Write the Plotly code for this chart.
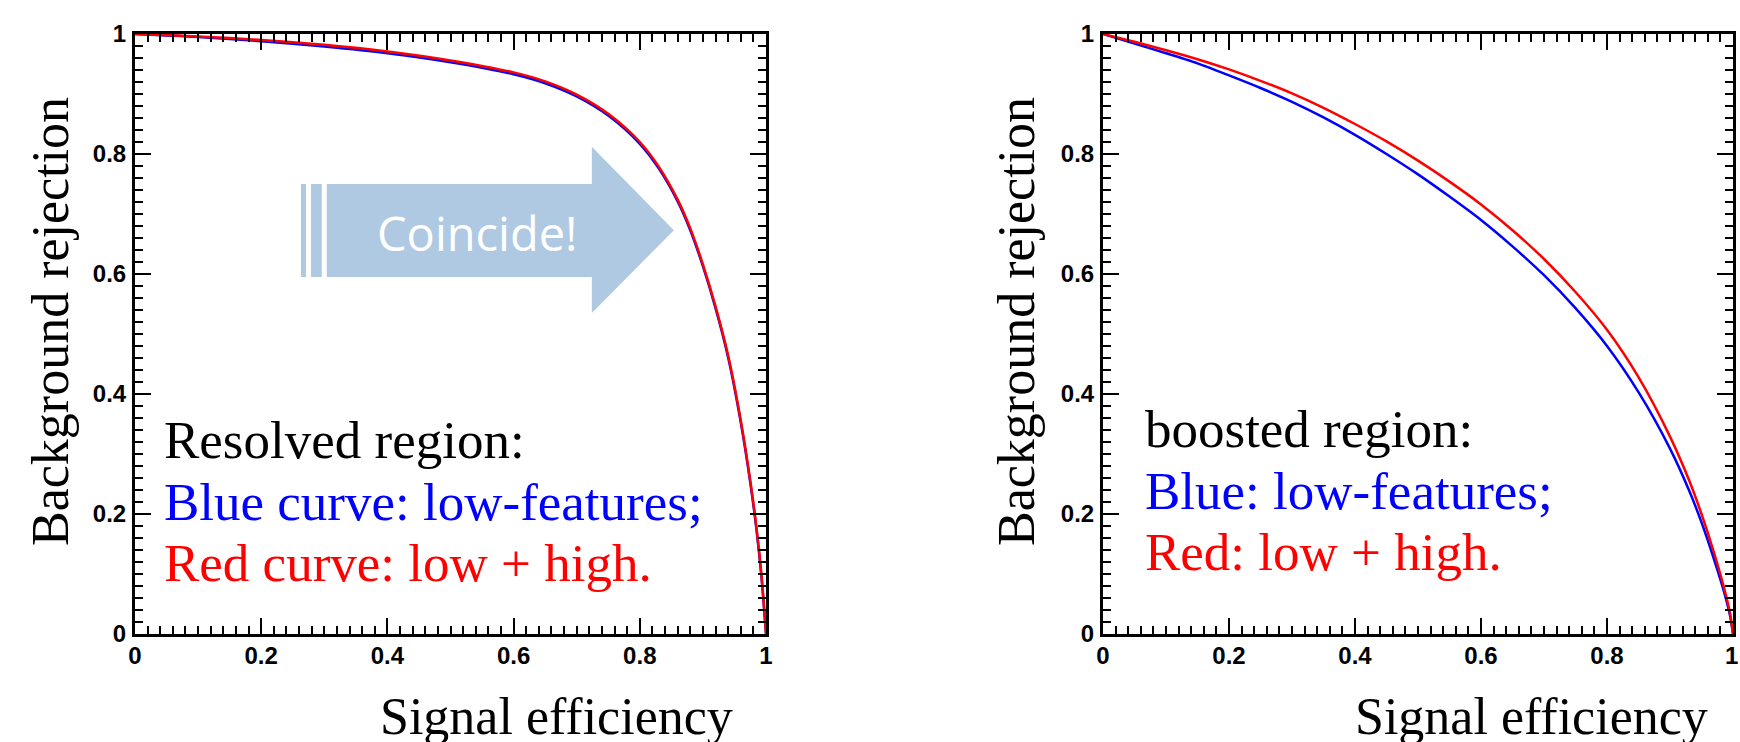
import plotly.graph_objects as go

W, H = 1740, 742

# ---- data ----
res_eff = [0.0, 0.1, 0.2, 0.3, 0.4, 0.5, 0.6, 0.65, 0.7, 0.75, 0.8, 0.83, 0.86, 0.88, 0.9, 0.92, 0.94, 0.96, 0.975, 0.985, 0.993, 1.0]
res_rej_low = [1.0, 0.995, 0.988, 0.979, 0.968, 0.953, 0.933, 0.918, 0.896, 0.864, 0.817, 0.776, 0.721, 0.673, 0.613, 0.543, 0.461, 0.353, 0.253, 0.173, 0.093, 0.0]
res_rej_lowhigh = [1.0, 0.996, 0.990, 0.982, 0.971, 0.956, 0.936, 0.921, 0.899, 0.867, 0.820, 0.779, 0.724, 0.676, 0.616, 0.546, 0.464, 0.356, 0.256, 0.176, 0.096, 0.0]

bst_eff = [0.0, 0.05, 0.1, 0.15, 0.2, 0.25, 0.3, 0.35, 0.4, 0.45, 0.5, 0.55, 0.6, 0.65, 0.7, 0.75, 0.8, 0.85, 0.9, 0.93, 0.95, 0.97, 0.985, 0.995, 1.0]
bst_rej_low = [1.0, 0.984, 0.968, 0.951, 0.931, 0.910, 0.887, 0.861, 0.832, 0.800, 0.766, 0.729, 0.690, 0.646, 0.598, 0.543, 0.480, 0.403, 0.309, 0.240, 0.186, 0.124, 0.073, 0.032, 0.0]
bst_rej_lowhigh = [1.0, 0.987, 0.973, 0.958, 0.941, 0.922, 0.901, 0.877, 0.850, 0.821, 0.789, 0.754, 0.716, 0.673, 0.625, 0.570, 0.507, 0.428, 0.329, 0.257, 0.200, 0.135, 0.080, 0.036, 0.0]

tick_vals = [0, 0.2, 0.4, 0.6, 0.8, 1.0]
tick_text = ["0", "0.2", "0.4", "0.6", "0.8", "1"]

x_title = "Signal efficiency"
y_title = "Background rejection"
left_text = ["Resolved region:", "Blue curve: low-features;", "Red curve: low + high."]
right_text = ["boosted region:", "Blue: low-features;", "Red: low + high."]
text_colors = ["black", "#0000FF", "#FF0000"]

# ---- layout geometry (pixels) ----
L1, R1 = 135, 766
L2, R2 = 1103, 1733
TOP, BOT = 34, 634


def px(x):
    return x / W


def py(y):
    return 1 - y / H


fig = go.Figure()
line_common = dict(width=2.5, shape="spline", smoothing=0.8)
fig.add_trace(go.Scatter(x=res_eff, y=res_rej_low, mode="lines", line=dict(color="#0000FF", **line_common), xaxis="x", yaxis="y", showlegend=False))
fig.add_trace(go.Scatter(x=res_eff, y=res_rej_lowhigh, mode="lines", line=dict(color="#FF0000", **line_common), xaxis="x", yaxis="y", showlegend=False))
fig.add_trace(go.Scatter(x=bst_eff, y=bst_rej_low, mode="lines", line=dict(color="#0000FF", **line_common), xaxis="x2", yaxis="y2", showlegend=False))
fig.add_trace(go.Scatter(x=bst_eff, y=bst_rej_lowhigh, mode="lines", line=dict(color="#FF0000", **line_common), xaxis="x2", yaxis="y2", showlegend=False))

tickfont = dict(family="Liberation Sans", size=24, color="black", weight="bold")


def axis(domain, anchor, standoff, labels):
    return dict(
        domain=domain, anchor=anchor, range=[0, 1], tickvals=tick_vals, ticktext=labels,
        ticks="inside", ticklen=16, tickwidth=2, tickcolor="black",
        showline=True, linecolor="black", linewidth=3, mirror="allticks",
        showgrid=False, zeroline=False, tickfont=tickfont, ticklabelstandoff=standoff,
        automargin=False,
        minor=dict(ticks="inside", ticklen=8, tickwidth=2, tickcolor="black", dtick=0.02, tick0=0, showgrid=False),
        fixedrange=True,
    )


# the right panel's last x label sits at the page edge; it is drawn as an annotation below
x2_labels = tick_text[:-1] + [""]

ydom = [py(BOT), py(TOP)]
fig.update_layout(
    width=W, height=H, margin=dict(l=0, r=0, t=0, b=0, autoexpand=False),
    paper_bgcolor="white", plot_bgcolor="white",
    xaxis=axis([px(L1), px(R1)], "y", -2, tick_text),
    yaxis=axis(ydom, "x", 1, tick_text),
    xaxis2=axis([px(L2), px(R2)], "y2", -2, x2_labels),
    yaxis2=axis(ydom, "x2", 1, tick_text),
)

serif = "Liberation Serif"
ann = []
# axis titles
for cx in [556, 1531]:
    ann.append(dict(x=px(cx), y=py(716), xref="paper", yref="paper", text=x_title, showarrow=False,
                    xanchor="center", yanchor="middle", font=dict(family=serif, size=52, color="black")))
for cx in [50, 1016]:
    ann.append(dict(x=px(cx), y=py(322), xref="paper", yref="paper", text=y_title, showarrow=False,
                    textangle=-90, xanchor="center", yanchor="middle", font=dict(family=serif, size=52, color="black")))
# in-plot texts
for i, (t, c) in enumerate(zip(left_text, text_colors)):
    ann.append(dict(x=px(162), y=py(440 + 61.5 * i), xref="paper", yref="paper", text=t, showarrow=False,
                    xanchor="left", yanchor="middle", font=dict(family=serif, size=53, color=c)))
for i, (t, c) in enumerate(zip(right_text, text_colors)):
    ann.append(dict(x=px(1143), y=py(429 + 61.5 * i), xref="paper", yref="paper", text=t, showarrow=False,
                    xanchor="left", yanchor="middle", font=dict(family=serif, size=53, color=c)))
# last x tick label of the right panel
ann.append(dict(x=px(1740), y=py(655), xref="paper", yref="paper", text=tick_text[-1], showarrow=False,
                xanchor="right", yanchor="middle", font=tickfont))
# arrow label
ann.append(dict(x=px(477), y=py(233), xref="paper", yref="paper", text="Coincide!", showarrow=False,
                xanchor="center", yanchor="middle", font=dict(family="Open Sans", size=47, color="white")))
# cut-off title fragment at the very top
ann.append(dict(x=px(484), y=py(-31), xref="paper", yref="paper", text="y", showarrow=False,
                xanchor="center", yanchor="middle", font=dict(family=serif, size=52, color="black")))
fig.update_layout(annotations=ann)

arrow_col = "#AFC9E3"
shapes = [
    dict(type="path", xref="x", yref="y", layer="below", line=dict(width=0), fillcolor=arrow_col,
         path="M 0.304,0.75 L 0.724,0.75 L 0.724,0.812 L 0.854,0.673 L 0.724,0.535 L 0.724,0.595 L 0.304,0.595 Z"),
    dict(type="rect", xref="x", yref="y", layer="below", line=dict(width=0), fillcolor=arrow_col,
         x0=0.263, x1=0.271, y0=0.595, y1=0.75),
    dict(type="rect", xref="x", yref="y", layer="below", line=dict(width=0), fillcolor=arrow_col,
         x0=0.279, x1=0.296, y0=0.595, y1=0.75),
]
fig.update_layout(shapes=shapes)

fig.write_html("out.html", config={"displayModeBar": False},
               post_script="document.body.style.margin='0px';document.body.style.overflow='hidden';")
